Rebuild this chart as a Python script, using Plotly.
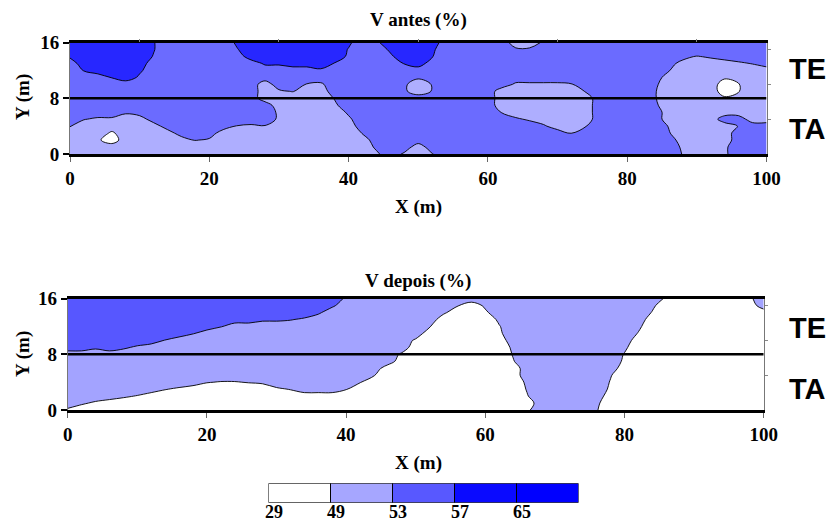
import plotly.graph_objects as go

# Survey grid (m)
x_m = [0, 2, 4, 6, 8, 10, 12, 14, 16, 18, 20, 22, 24, 26, 28, 30, 32, 34, 36, 38,
       40, 42, 44, 46, 48, 50, 52, 54, 56, 58, 60, 62, 64, 66, 68, 70, 72, 74, 76, 78,
       80, 82, 84, 86, 88, 90, 92, 94, 96, 98, 100]
y_m = [0, 1, 2, 3, 4, 5, 6, 7, 8, 9, 10, 11, 12, 13, 14, 15, 16]

# V (%) estimated at each grid node, written as one character per node
node_value = {
    "w": 47.0, "1": 48.4, "2": 48.8, "3": 49.2, "4": 49.6,
    "l": 51.0, "5": 52.4, "6": 52.8, "7": 53.2, "8": 53.6,
    "m": 55.0, "e": 56.4, "g": 56.8, "h": 57.2, "f": 57.6, "d": 59.0,
}

# V antes: rows from y = 16 (first) down to y = 0 (last), columns x = 0..100 in groups of 5
v_antes_rows = [
    "ddddd dhmmm mmfdd ddddd fmedd ddmmm mmll8 mmmmm mmmmm mmmmm m",
    "ddddd dhmmm mmgdd ddddd gmmfd dfmmm mm88m mmmmm mmmmm mmmmm m",
    "fdddd dgmmm mmmdd ddddd emmed dhmmm mmmmm mmmmm mmmmm 68mmm m",
    "mdddd dmmmm mmmmf fdddg mmmmh dmmmm mmmmm mmmmm mmmml lll57 m",
    "mhddd fmmmm mmmmm mmmem mmmmm mmmmm mmmmm mmmmm mmm7l lllll l",
    "mmmhd emmmm mmmmm mmmmm mmmmm 8mmmm mmmmm mmmmm mmmll ll4ll l",
    "mmmmm mmmmm mmmml mm65m mmmm8 l7mmm mm555 56mmm mm8ll llw2l l",
    "mmmmm mmmmm mmmml 57llm mmmm8 l7mmm mllll ll7mm mm7ll llw2l l",
    "mmmmm mmmmm mmmml llll7 mmmmm mmmmm mllll lllmm mm7ll ll4ll l",
    "mmmmm mmmmm mmmmm llll5 mmmmm mmmmm mllll lllmm mm8ll lllll l",
    "mmmm8 mmmmm mmmmm 5llll 8mmmm mmmmm m6lll lllmm mmmll lllll l",
    "m755l lmmmm mmmmm 5llll 5mmmm mmmmm mm85l lllmm mmmll llmml l",
    "7llll llmmm mm656 lllll lmmmm mmmmm mmmm8 ll6mm mmm6l lll7m m",
    "lll1l lllmm mllll lllll l7mmm mmmmm mmmmm m6mmm mmm7l lllmm m",
    "ll4wl llll7 5llll lllll llmmm mmmmm mmmmm mmmmm mmmml lllmm m",
    "lllll lllll lllll lllll ll8mm lmmmm mmmmm mmmmm mmmm5 ll5mm m",
    "lllll lllll lllll lllll ll5m5 l6mmm mmmmm mmmmm mmmm6 ll5mm m",
]

# V depois: same layout
v_depois_rows = [
    "mmmmm mmmmm mmmmm mmmmm 5llll lllll lllll lllll lll1w wwww1 l",
    "mmmmm mmmmm mmmmm mmmm8 lllll lll3w 4llll lllll ll4ww wwwww l",
    "mmmmm mmmmm mmmmm mmm8l lllll ll4ww 1llll lllll ll2ww wwwww w",
    "mmmmm mmmmm mmmm8 875ll lllll llwww w4lll lllll llwww wwwww w",
    "mmmmm mmmmm m7lll lllll lllll l3www w2lll lllll l4www wwwww w",
    "mmmmm mmmm7 lllll lllll lllll lwwww w1lll lllll l2www wwwww w",
    "mmmmm mm6ll lllll lllll lllll 1wwww wwlll lllll lwwww wwwww w",
    "mm8m8 5llll lllll lllll lllll wwwww ww4ll lllll 4wwww wwwww w",
    "lllll lllll lllll lllll llll1 wwwww ww3ll lllll 2wwww wwwww w",
    "lllll lllll lllll lllll llllw wwwww ww2ll lllll 1wwww wwwww w",
    "lllll lllll lllll lllll lllww wwwww wwwll lllll wwwww wwwww w",
    "lllll lllll lllll lllll ll3ww wwwww wwwll llll3 wwwww wwwww w",
    "lllll lllll 32234 lllll l3www wwwww www4l llll2 wwwww wwwww w",
    "lllll ll31w wwwww 13lll 3wwww wwwww www3l llll1 wwwww wwwww w",
    "llll4 2wwww wwwww wwwww wwwww wwwww www2l llllw wwwww wwwww w",
    "l41ww wwwww wwwww wwwww wwwww wwwww wwwwl lll4w wwwww wwwww w",
    "1wwww wwwww wwwww wwwww wwwww wwwww www1l lll3w wwwww wwwww w",
]

# Class limits of the colour key
key_limits = ["29", "49", "53", "57", "65"]
key_colors = ["#ffffff", "#a6a6ff", "#5858ff", "#0a0aff", "#0000ff"]

antes_colors = ["#ffffff", "#aeaeff", "#6b6bff", "#2727ff"]
depois_colors = ["#ffffff", "#a3a3ff", "#5757ff", "#0a0aff"]

x_ticks = [0, 20, 40, 60, 80, 100]
y_ticks = [0, 8, 16]
x_minor = [10, 30, 50, 70, 90]
y_minor = [5, 10, 15]


def rows_to_z(rows):
    return [[node_value[c] for c in row.replace(" ", "")] for row in reversed(rows)]


def scale(colors):
    n = len(colors) - 1
    return [[i / n, c] for i, c in enumerate(colors)]


def bold(values):
    return ["<b>%s</b>" % v for v in values]


SERIF = "Liberation Serif, Times New Roman, serif"
SANS = "Liberation Sans, Arial, sans-serif"
tick_font = dict(family=SERIF, size=19, color="black")

fig = go.Figure()

contour_common = dict(
    x=x_m, y=y_m, showscale=False, hoverinfo="skip",
    contours=dict(start=49, end=57, size=4, coloring="fill"),
    line=dict(color="black", width=0.9, smoothing=1.0),
)
fig.add_trace(go.Contour(z=rows_to_z(v_antes_rows), colorscale=scale(antes_colors),
                         xaxis="x", yaxis="y", **contour_common))
fig.add_trace(go.Contour(z=rows_to_z(v_depois_rows), colorscale=scale(depois_colors),
                         xaxis="x3", yaxis="y3", **contour_common))

# empty traces so the minor-tick axes are drawn
fig.add_trace(go.Scatter(x=[], y=[], xaxis="x2", yaxis="y2", showlegend=False))
fig.add_trace(go.Scatter(x=[], y=[], xaxis="x3", yaxis="y4", showlegend=False))

# colour key
fig.add_trace(go.Bar(
    x=list(range(len(key_limits))), y=[1] * len(key_limits), width=1, offset=0,
    marker=dict(color=key_colors, line=dict(color="black", width=1)),
    xaxis="x5", yaxis="y5", showlegend=False, hoverinfo="skip", cliponaxis=False,
))

top_dom_x = [70 / 830, 766.5 / 830]
top_dom_y = [1 - 154 / 526, 1 - 42.5 / 526]
bot_dom_x = [67.7 / 830, 763.7 / 830]
bot_dom_y = [1 - 410 / 526, 1 - 298.7 / 526]


def main_x(domain, anchor):
    return dict(domain=domain, anchor=anchor, range=[0, 100], showline=True,
                linewidth=3, linecolor="black", mirror=True, ticks="outside",
                ticklen=5, tickwidth=1, tickcolor="#666666", tickvals=x_ticks,
                ticktext=bold(x_ticks), tickfont=tick_font, showgrid=False,
                zeroline=False, fixedrange=True)


def main_y(domain, anchor):
    return dict(domain=domain, anchor=anchor, range=[0, 16], showline=True,
                linewidth=1, linecolor="#777777", mirror=True, ticks="outside",
                ticklen=6, tickwidth=1.5, tickcolor="black", tickvals=y_ticks,
                ticktext=bold(y_ticks), tickfont=tick_font, showgrid=False,
                zeroline=False, fixedrange=True)


def minor_y(base, anchor):
    return dict(overlaying=base, anchor=anchor, side="right", range=[0, 16],
                tickvals=y_minor, ticks="outside", ticklen=3, tickcolor="#888888",
                showticklabels=False, showgrid=False, zeroline=False, showline=False)


fig.update_layout(
    width=830, height=526,
    margin=dict(l=0, r=0, t=0, b=0, autoexpand=False),
    paper_bgcolor="white", plot_bgcolor="white", showlegend=False,
    xaxis=main_x(top_dom_x, "y"),
    yaxis=main_y(top_dom_y, "x"),
    xaxis2=dict(overlaying="x", anchor="y", side="top", range=[0, 100],
                tickvals=x_minor, ticks="outside", ticklen=3, tickcolor="#888888",
                showticklabels=False, showgrid=False, zeroline=False, showline=False),
    yaxis2=minor_y("y", "x"),
    xaxis3=main_x(bot_dom_x, "y3"),
    yaxis3=main_y(bot_dom_y, "x3"),
    yaxis4=minor_y("y3", "x3"),
    xaxis5=dict(domain=[268.5 / 830, 578.5 / 830], anchor="y5", range=[0, 5],
                tickvals=[i + 0.09 for i in range(len(key_limits))],
                ticktext=bold(key_limits), ticks="", ticklabelstandoff=-4,
                tickfont=dict(family=SERIF, size=18, color="black"),
                showgrid=False, zeroline=False, showline=False, fixedrange=True),
    yaxis5=dict(domain=[1 - 502.7 / 526, 1 - 483.3 / 526], anchor="x5", range=[0, 1],
                visible=False, fixedrange=True),
)

# division between the TE and TA layers
for xr, yr in (("x", "y"), ("x3", "y3")):
    fig.add_shape(type="line", xref=xr, yref=yr, x0=0, x1=100, y0=8, y1=8,
                  line=dict(color="black", width=2.5))

title_font = dict(family=SERIF, size=19, color="black")
label_font = dict(family=SANS, size=29, color="black")
notes = [
    ("<b>V antes (%)</b>", 418, 20, title_font, 0),
    ("<b>V depois (%)</b>", 418, 281, title_font, 0),
    ("<b>X (m)</b>", 418, 207, title_font, 0),
    ("<b>X (m)</b>", 418, 463, title_font, 0),
    ("<b>Y (m)</b>", 23, 97, title_font, -90),
    ("<b>Y (m)</b>", 23, 354, title_font, -90),
    ("<b>TE</b>", 807, 69, label_font, 0),
    ("<b>TA</b>", 807, 129, label_font, 0),
    ("<b>TE</b>", 807, 328, label_font, 0),
    ("<b>TA</b>", 807, 389, label_font, 0),
]
for text, px, py, font, ang in notes:
    fig.add_annotation(text=text, x=px / 830, y=1 - py / 526, xref="paper", yref="paper",
                       xanchor="center", yanchor="middle", showarrow=False,
                       font=font, textangle=ang)

fig.write_html("out.html")
